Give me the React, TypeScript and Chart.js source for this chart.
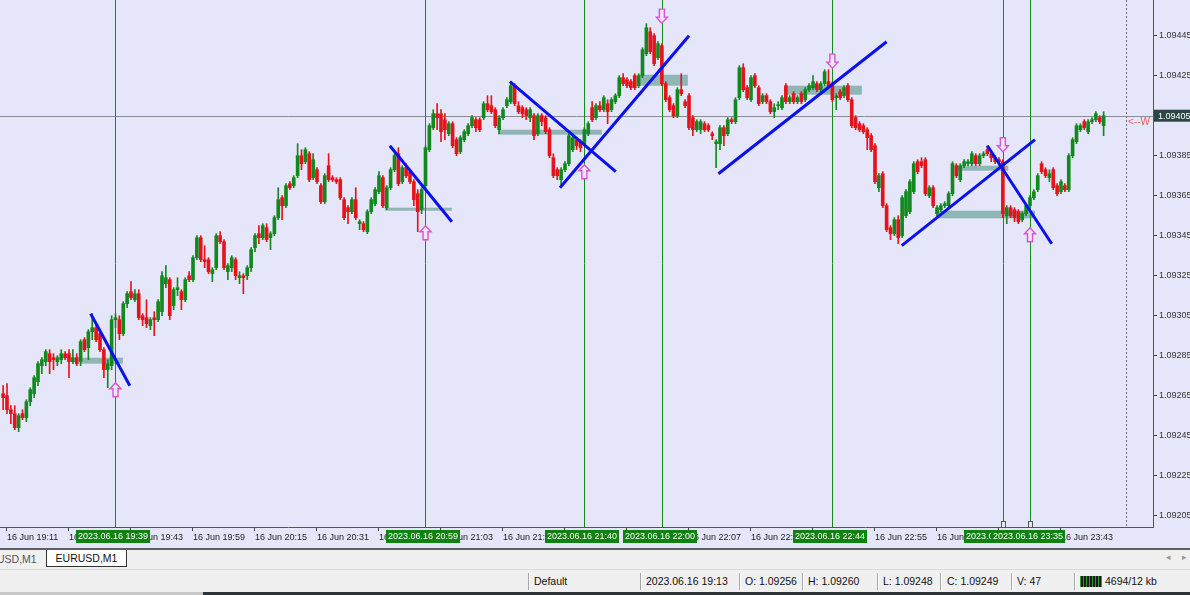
import React, { useEffect, useRef } from 'react';
import { Chart, registerables } from 'chart.js';

Chart.register(...registerables);

// EURUSD M1, 16 Jun 2023. Bar 0 is 19:10, one bar per minute.
// Prices are stored in points above 1.09000 (e.g. 256 -> 1.09256).
const opens = [
  266, 265, 258, 256, 249, 256, 254, 262, 266, 272,
  280, 282, 286, 284, 282, 283, 286, 286, 282, 284,
  282, 293, 289, 297, 299, 296, 288, 278, 280, 303,
  303, 296, 311, 317, 313, 316, 305, 304, 300, 304,
  303, 307, 321, 323, 310, 318, 317, 313, 325, 323,
  334, 344, 333, 333, 326, 329, 345, 342, 327, 329,
  333, 324, 325, 325, 329, 339, 346, 344, 349, 344,
  346, 354, 364, 360, 371, 370, 375, 385, 382, 386,
  374, 378, 370, 362, 380, 374, 373, 373, 363, 359,
  357, 363, 351, 351, 347, 357, 361, 367, 374, 359,
  369, 378, 386, 372, 379, 377, 372, 366, 358, 370,
  388, 399, 406, 406, 403, 396, 401, 393, 387, 393,
  396, 400, 403, 403, 404, 411, 410, 408, 398, 404,
  410, 412, 420, 410, 409, 408, 404, 405, 396, 405,
  404, 398, 384, 378, 373, 378, 381, 388, 393, 392,
  391, 396, 409, 404, 410, 408, 411, 408, 412, 415,
  424, 423, 422, 425, 420, 425, 436, 447, 445, 434,
  440, 421, 414, 410, 405, 418, 412, 415, 404, 398,
  398, 401, 400, 396, 391, 391, 399, 396, 403, 402,
  414, 429, 419, 413, 425, 419, 412, 415, 412, 407,
  410, 409, 420, 412, 416, 412, 416, 413, 418, 419,
  421, 418, 421, 422, 421, 414, 417, 415, 420, 413,
  404, 401, 400, 398, 395, 390, 369, 376, 360, 349,
  346, 353, 345, 355, 357, 367, 382, 382, 383, 365,
  369, 356, 358, 360, 360, 366, 380, 373, 380, 381,
  381, 385, 381, 385, 388, 386, 384, 383, 382, 355,
  359, 358, 357, 353, 356, 360, 364, 368, 381, 378,
  374, 378, 370, 367, 370, 368, 385, 392, 398, 402,
  397, 402, 403, 404, 400,
];

const highs = [
  270, 271, 260, 260, 256, 258, 263, 269, 275, 282,
  284, 288, 288, 286, 285, 288, 287, 288, 288, 286,
  293, 294, 298, 306, 300, 297, 289, 283, 305, 306,
  305, 312, 317, 322, 318, 318, 306, 313, 304, 307,
  313, 327, 330, 324, 319, 324, 318, 324, 327, 335,
  345, 345, 340, 334, 329, 346, 347, 343, 331, 335,
  334, 327, 326, 330, 339, 346, 350, 351, 351, 347,
  355, 369, 365, 371, 372, 375, 391, 388, 389, 387,
  386, 379, 371, 376, 386, 375, 374, 374, 364, 360,
  364, 369, 353, 352, 358, 364, 369, 377, 375, 370,
  379, 386, 389, 380, 381, 378, 373, 368, 369, 390,
  401, 408, 411, 408, 406, 402, 402, 394, 395, 398,
  401, 405, 404, 404, 412, 415, 415, 409, 405, 409,
  414, 422, 421, 412, 410, 409, 409, 406, 406, 406,
  405, 399, 386, 379, 379, 382, 396, 396, 394, 393,
  399, 402, 412, 411, 412, 415, 413, 414, 416, 425,
  426, 424, 423, 426, 426, 439, 451, 449, 446, 442,
  441, 422, 415, 411, 419, 426, 413, 416, 405, 403,
  403, 402, 401, 397, 393, 400, 400, 404, 404, 414,
  430, 431, 420, 425, 426, 420, 416, 416, 413, 411,
  412, 415, 421, 415, 417, 415, 417, 419, 421, 425,
  422, 422, 428, 428, 422, 416, 418, 420, 421, 414,
  405, 402, 401, 399, 396, 391, 376, 377, 361, 350,
  354, 355, 365, 368, 373, 382, 383, 384, 384, 370,
  370, 360, 361, 362, 367, 382, 381, 381, 383, 383,
  387, 386, 386, 387, 390, 387, 385, 384, 383, 360,
  360, 359, 358, 357, 361, 365, 368, 376, 382, 379,
  378, 379, 371, 373, 371, 386, 394, 401, 401, 403,
  403, 404, 407, 405, 407,
];

const lows = [
  258, 256, 251, 248, 247, 253, 252, 260, 264, 270,
  276, 280, 276, 278, 280, 281, 283, 274, 281, 280,
  280, 287, 283, 293, 292, 287, 274, 269, 278, 299,
  293, 295, 309, 313, 312, 303, 300, 299, 298, 295,
  302, 305, 319, 303, 308, 315, 308, 312, 322, 322,
  333, 332, 329, 326, 322, 328, 341, 328, 323, 327,
  323, 321, 316, 323, 327, 337, 341, 343, 342, 338,
  345, 353, 353, 359, 368, 369, 374, 378, 381, 372,
  373, 371, 361, 361, 372, 372, 371, 363, 353, 351,
  356, 353, 348, 347, 346, 356, 360, 366, 359, 358,
  368, 377, 370, 371, 374, 371, 360, 347, 356, 369,
  387, 398, 398, 392, 393, 395, 389, 385, 386, 392,
  395, 399, 397, 397, 403, 407, 406, 399, 396, 403,
  409, 411, 410, 406, 404, 403, 402, 393, 395, 400,
  396, 384, 374, 373, 369, 377, 380, 387, 388, 387,
  390, 395, 402, 403, 407, 407, 401, 407, 411, 414,
  420, 419, 418, 418, 419, 424, 435, 436, 430, 433,
  420, 412, 407, 404, 404, 415, 409, 398, 395, 397,
  396, 397, 397, 393, 379, 388, 390, 395, 401, 401,
  413, 417, 413, 412, 419, 410, 411, 411, 406, 404,
  408, 408, 411, 411, 411, 411, 411, 412, 417, 418,
  417, 417, 420, 419, 412, 408, 413, 414, 412, 399,
  398, 397, 396, 388, 387, 371, 367, 359, 347, 343,
  345, 341, 344, 354, 356, 366, 376, 379, 365, 364,
  359, 355, 357, 359, 359, 365, 374, 372, 379, 380,
  380, 380, 380, 384, 385, 382, 381, 380, 354, 351,
  354, 352, 351, 352, 355, 359, 363, 367, 376, 374,
  372, 368, 365, 366, 367, 367, 384, 391, 397, 398,
  396, 401, 402, 401, 395,
];

const closes = [
  264, 258, 256, 249, 255, 254, 262, 268, 274, 281,
  283, 287, 282, 283, 284, 286, 284, 282, 284, 281,
  292, 288, 297, 299, 293, 288, 278, 281, 303, 304,
  296, 311, 316, 314, 316, 304, 303, 301, 303, 303,
  312, 325, 324, 305, 318, 319, 313, 323, 323, 334,
  344, 333, 332, 327, 328, 345, 342, 329, 330, 334,
  325, 325, 324, 329, 338, 345, 344, 350, 343, 346,
  354, 363, 360, 370, 369, 374, 385, 381, 388, 373,
  383, 372, 362, 375, 373, 373, 372, 364, 354, 357,
  363, 354, 352, 348, 357, 363, 368, 375, 360, 369,
  378, 385, 371, 379, 375, 372, 363, 357, 368, 389,
  400, 406, 404, 397, 398, 401, 390, 386, 394, 397,
  400, 404, 399, 398, 411, 408, 407, 400, 404, 408,
  413, 420, 411, 407, 406, 405, 408, 395, 405, 402,
  397, 385, 375, 375, 378, 381, 395, 394, 390, 389,
  398, 401, 403, 410, 408, 414, 407, 413, 415, 424,
  421, 420, 419, 419, 425, 438, 449, 437, 431, 441,
  421, 413, 408, 405, 418, 416, 410, 399, 398, 402,
  402, 398, 398, 395, 392, 399, 395, 403, 402, 413,
  429, 418, 414, 424, 420, 411, 415, 412, 407, 409,
  410, 414, 412, 414, 412, 414, 412, 418, 420, 422,
  418, 421, 427, 420, 413, 415, 414, 419, 413, 400,
  399, 398, 397, 394, 388, 372, 375, 360, 348, 346,
  353, 344, 364, 367, 372, 381, 377, 380, 366, 369,
  360, 359, 360, 361, 366, 381, 375, 380, 382, 382,
  386, 381, 385, 386, 386, 384, 382, 382, 356, 359,
  355, 354, 352, 356, 360, 364, 367, 375, 377, 375,
  376, 369, 366, 372, 368, 385, 393, 400, 400, 399,
  402, 403, 406, 402, 405,
];

const toPrice = (pt: number) => 1.09 + pt / 100000;

// Time axis: one label every 16 bars, first at bar 1 (19:11)
const timeTickLabels = [
  '16 Jun 19:11', '16 Jun 19:27', '16 Jun 19:43', '16 Jun 19:59', '16 Jun 20:15', '16 Jun 20:31',
  '16 Jun 20:47', '16 Jun 21:03', '16 Jun 21:19', '16 Jun 21:35', '16 Jun 21:51', '16 Jun 22:07',
  '16 Jun 22:23', '16 Jun 22:39', '16 Jun 22:55', '16 Jun 23:11', '16 Jun 23:27', '16 Jun 23:43',
];
const priceTickLabels = [
  '1.09205', '1.09225', '1.09245', '1.09265', '1.09285', '1.09305', '1.09325',
  '1.09345', '1.09365', '1.09385', '1.09405', '1.09425', '1.09445', '1.09465',
];

// Vertical time markers
const markerBars = [29, 109, 150, 170, 214, 258, 265];
const markerLabels = [
  '2023.06.16 19:39', '2023.06.16 20:59', '2023.06.16 21:40', '2023.06.16 22:00',
  '2023.06.16 22:44', '2023.06.16 23:28', '2023.06.16 23:35',
];
const selectedMarkers = [5, 6];

// Trend lines (bar, price) -> (bar, price)
const trendFromBar = [22.6, 99.8, 130.8, 143.7, 184.6, 231.9, 254.0];
const trendFromPrice = [1.09306, 1.0939, 1.09422, 1.09369, 1.09376, 1.0934, 1.0939];
const trendToBar = [32.7, 115.8, 158.1, 177.0, 228.0, 266.3, 270.6];
const trendToPrice = [1.0927, 1.09352, 1.09377, 1.09445, 1.09442, 1.09393, 1.09341];

// Price zones
const zoneFromBar = [19.8, 98.5, 127.7, 163.9, 201.8, 245.6, 240.9];
const zoneToBar = [30.9, 115.8, 154.5, 176.7, 221.6, 259.4, 266.3];
const zoneTop = [1.09284, 1.09359, 1.09398, 1.094255, 1.0942, 1.0938, 1.093575];
const zoneBottom = [1.09281, 1.093575, 1.093955, 1.0942, 1.094155, 1.093775, 1.093537];

// Signal arrows (tip position)
const upArrowBars = [29, 109, 150, 265];
const upArrowPrices = [1.092715, 1.0935, 1.093805, 1.09349];
const downArrowBars = [170, 214, 258];
const downArrowPrices = [1.094513, 1.094288, 1.09387];

const chartShiftBar = 289.8;

const X_MIN = -0.806;
const X_MAX = 296.742;
const Y_MIN = 1.0919935;
const Y_MAX = 1.0946285;

const BG = '#e6e6fa';
const BULL = '#12891f';
const BEAR = '#e5141c';
const FONT = '"Liberation Sans", Arial, sans-serif';

function drawSignalArrow(ctx: CanvasRenderingContext2D, cx: number, tipY: number, up: boolean) {
  const s = up ? 1 : -1;
  const pts = [[0, 0], [5.5, 6], [2.5, 6], [2.5, 14], [-2.5, 14], [-2.5, 6], [-5.5, 6]];
  ctx.beginPath();
  pts.forEach(([dx, dy], k) => {
    const X = cx + dx;
    const Y = tipY + s * dy;
    if (k === 0) ctx.moveTo(X, Y);
    else ctx.lineTo(X, Y);
  });
  ctx.closePath();
  ctx.fillStyle = '#f4e6f6';
  ctx.fill();
  ctx.strokeStyle = '#d455d4';
  ctx.lineWidth = 1.4;
  ctx.stroke();
}

const overlayPlugin = {
  id: 'mtOverlay',
  beforeDatasetsDraw(chart: any) {
    const { ctx, chartArea: a, scales } = chart;
    const x = scales.x;
    const y = scales.y;
    ctx.save();
    ctx.beginPath();
    ctx.rect(a.left, a.top, a.right - a.left, a.bottom - a.top);
    ctx.clip();

    ctx.fillStyle = '#8fb5b5';
    zoneFromBar.forEach((b, k) => {
      const x0 = x.getPixelForValue(b);
      const x1 = x.getPixelForValue(zoneToBar[k]);
      const y0 = y.getPixelForValue(zoneTop[k]);
      const y1 = y.getPixelForValue(zoneBottom[k]);
      ctx.fillRect(x0, y0, x1 - x0, y1 - y0);
    });

    const bidY = Math.round(y.getPixelForValue(toPrice(closes[closes.length - 1]))) + 0.5;
    ctx.strokeStyle = '#8c8c8c';
    ctx.lineWidth = 1;
    ctx.beginPath();
    ctx.moveTo(a.left, bidY);
    ctx.lineTo(a.right, bidY);
    ctx.stroke();

    ctx.strokeStyle = '#178c17';
    markerBars.forEach((b) => {
      const xp = Math.round(x.getPixelForValue(b)) + 0.5;
      ctx.beginPath();
      ctx.moveTo(xp, a.top);
      ctx.lineTo(xp, a.bottom);
      ctx.stroke();
    });

    const sx = Math.round(x.getPixelForValue(chartShiftBar)) + 0.5;
    ctx.strokeStyle = '#707070';
    ctx.setLineDash([2, 2]);
    ctx.beginPath();
    ctx.moveTo(sx, a.top);
    ctx.lineTo(sx, a.bottom);
    ctx.stroke();
    ctx.restore();
  },
  afterDatasetsDraw(chart: any) {
    const { ctx, scales } = chart;
    const x = scales.x;
    const y = scales.y;
    ctx.save();
    upArrowBars.forEach((b, k) => drawSignalArrow(ctx, x.getPixelForValue(b), y.getPixelForValue(upArrowPrices[k]), true));
    downArrowBars.forEach((b, k) => drawSignalArrow(ctx, x.getPixelForValue(b), y.getPixelForValue(downArrowPrices[k]), false));

    ctx.strokeStyle = '#555';
    ctx.fillStyle = BG;
    ctx.lineWidth = 1;
    selectedMarkers.forEach((k) => {
      const xp = Math.round(x.getPixelForValue(markerBars[k]));
      ctx.fillRect(xp - 2, chart.chartArea.bottom - 6, 5, 6);
      ctx.strokeRect(xp - 1.5, chart.chartArea.bottom - 5.5, 4, 6);
    });
    ctx.restore();
  },
  afterDraw(chart: any) {
    const { ctx, chartArea: a, scales } = chart;
    const x = scales.x;
    const y = scales.y;
    ctx.save();
    ctx.font = `9px ${FONT}`;
    ctx.textBaseline = 'middle';
    ctx.textAlign = 'left';
    markerBars.forEach((b, k) => {
      const xp = x.getPixelForValue(b);
      const tw = ctx.measureText(markerLabels[k]).width;
      const w = tw + 4;
      const left = Math.round(xp - w / 2 - 2);
      ctx.fillStyle = '#118211';
      ctx.fillRect(left, a.bottom + 3, w, 13);
      ctx.fillStyle = '#ffffff';
      ctx.fillText(markerLabels[k], left + 2, a.bottom + 10);
    });

    const bid = toPrice(closes[closes.length - 1]);
    const yp = y.getPixelForValue(bid);
    ctx.fillStyle = '#2c4545';
    ctx.fillRect(a.right + 1, yp - 6, 40, 12);
    ctx.fillStyle = '#ffffff';
    ctx.fillText(bid.toFixed(5), a.right + 5, yp + 0.5);

    ctx.font = `10px ${FONT}`;
    ctx.fillStyle = '#e36262';
    ctx.fillText('<--W', x.getPixelForValue(chartShiftBar) + 2, yp + 7);
    ctx.restore();
  },
};

export default function App() {
  const canvasRef = useRef<HTMLCanvasElement | null>(null);

  useEffect(() => {
    const canvas = canvasRef.current;
    if (!canvas) return;

    const candleColors = closes.map((c, i) => (c >= opens[i] ? BULL : BEAR));
    const wickData = highs.map((h, i) => ({ x: i, y: [toPrice(lows[i]), toPrice(h)] }));
    const bodyData = opens.map((o, i) => ({ x: i, y: [toPrice(o), toPrice(closes[i])] }));

    const trendSets = trendFromBar.map((b, k) => ({
      type: 'line' as const,
      data: [
        { x: b, y: trendFromPrice[k] },
        { x: trendToBar[k], y: trendToPrice[k] },
      ],
      borderColor: '#0a10ee',
      borderWidth: 3,
      pointRadius: 0,
      fill: false,
      order: 0,
    }));

    const chart = new Chart(canvas, {
      type: 'bar',
      data: {
        datasets: [
          ...trendSets,
          {
            type: 'bar',
            data: bodyData as any,
            backgroundColor: candleColors,
            borderWidth: 0,
            barThickness: 3,
            minBarLength: 1,
            grouped: false,
            order: 1,
          } as any,
          {
            type: 'bar',
            data: wickData as any,
            backgroundColor: candleColors,
            borderWidth: 0,
            barThickness: 1,
            grouped: false,
            order: 2,
          } as any,
        ],
      },
      options: {
        responsive: false,
        animation: false,
        events: [],
        layout: { padding: 0 },
        plugins: { legend: { display: false }, tooltip: { enabled: false } },
        scales: {
          x: {
            type: 'linear',
            min: X_MIN,
            max: X_MAX,
            offset: false,
            grid: { display: true, drawOnChartArea: false, drawTicks: true, tickLength: 4, color: '#444', offset: false },
            border: { display: true, color: '#555' },
            afterBuildTicks: (s: any) => {
              s.ticks = timeTickLabels.map((_, k) => ({ value: 1 + 16 * k }));
            },
            afterFit: (s: any) => {
              s.height = 21;
              s.paddingLeft = 0;
              s.paddingRight = 0;
              s.paddingTop = 0;
              s.paddingBottom = 0;
            },
            ticks: {
              autoSkip: false,
              maxRotation: 0,
              minRotation: 0,
              align: 'start',
              padding: 1,
              color: '#222',
              font: { family: FONT, size: 9 },
              callback: (_v: any, i: number) => timeTickLabels[i],
            },
          },
          y: {
            type: 'linear',
            position: 'right',
            min: Y_MIN,
            max: Y_MAX,
            beginAtZero: false,
            grid: { display: true, drawOnChartArea: false, drawTicks: true, tickLength: 4, color: '#444' },
            border: { display: true, color: '#555' },
            afterBuildTicks: (s: any) => {
              s.ticks = priceTickLabels.map((p) => ({ value: parseFloat(p) }));
            },
            afterFit: (s: any) => {
              s.width = 37;
              s.paddingLeft = 0;
              s.paddingRight = 0;
              s.paddingTop = 0;
              s.paddingBottom = 0;
            },
            ticks: {
              autoSkip: false,
              padding: 2,
              color: '#333',
              font: { family: FONT, size: 9 },
              callback: (_v: any, i: number) => priceTickLabels[i],
            },
          },
        },
      } as any,
      plugins: [overlayPlugin],
    });

    return () => chart.destroy();
  }, []);

  const sep = (left: number) => (
    <div style={{ position: 'absolute', left, top: 573, width: 1, height: 17, background: '#a8a8a8', borderRight: '1px solid #ffffff' }} />
  );
  const status = (left: number, text: string) => (
    <div style={{ position: 'absolute', left, top: 574, fontSize: 10.5, lineHeight: '15px', color: '#111', whiteSpace: 'nowrap' }}>{text}</div>
  );

  return (
    <div style={{ position: 'fixed', left: 0, top: 0, width: 1190, height: 595, overflow: 'hidden', background: '#f0f0f0', fontFamily: FONT }}>
      <div style={{ position: 'absolute', left: 0, top: 0, width: 1190, height: 548, background: BG }}>
        <canvas ref={canvasRef} width={1190} height={548} style={{ display: 'block' }} />
      </div>
      <div style={{ position: 'absolute', left: 0, top: 548, width: 1190, height: 2, background: '#5f5f5f' }} />
      <div style={{ position: 'absolute', left: -3, top: 552, fontSize: 10.5, lineHeight: '14px', color: '#555' }}>USD,M1</div>
      <div style={{ position: 'absolute', left: 46, top: 550, width: 79, height: 16, background: '#ffffff', borderLeft: '1px solid #333', borderRight: '1px solid #333', borderBottom: '1px solid #333', fontSize: 10.5, lineHeight: '16px', textAlign: 'center', color: '#111' }}>EURUSD,M1</div>
      <div style={{ position: 'absolute', left: 1166, top: 552, fontSize: 9, color: '#999' }}>◂</div>
      <div style={{ position: 'absolute', left: 1182, top: 552, fontSize: 9, color: '#999' }}>▸</div>
      <div style={{ position: 'absolute', left: 0, top: 569, width: 1190, height: 1, background: '#dcdcdc' }} />
      {sep(528)}
      {status(534, 'Default')}
      {sep(640)}
      {status(646, '2023.06.16 19:13')}
      {sep(739)}
      {status(745, 'O: 1.09256')}
      {sep(802)}
      {status(808, 'H: 1.09260')}
      {sep(877)}
      {status(883, 'L: 1.09248')}
      {sep(940)}
      {status(947, 'C: 1.09249')}
      {sep(1011)}
      {status(1017, 'V: 47')}
      {sep(1074)}
      <div style={{ position: 'absolute', left: 1080, top: 576, width: 22, height: 11, background: 'repeating-linear-gradient(90deg, #2e9a2e 0px, #2e9a2e 1.5px, #1a1a1a 1.5px, #1a1a1a 3px)' }} />
      {status(1105, '4694/12 kb')}
      <div style={{ position: 'absolute', left: 0, top: 592, width: 203, height: 3, background: '#c8c8c8' }} />
      <div style={{ position: 'absolute', left: 203, top: 592, width: 987, height: 3, background: '#2e3338' }} />
    </div>
  );
}
